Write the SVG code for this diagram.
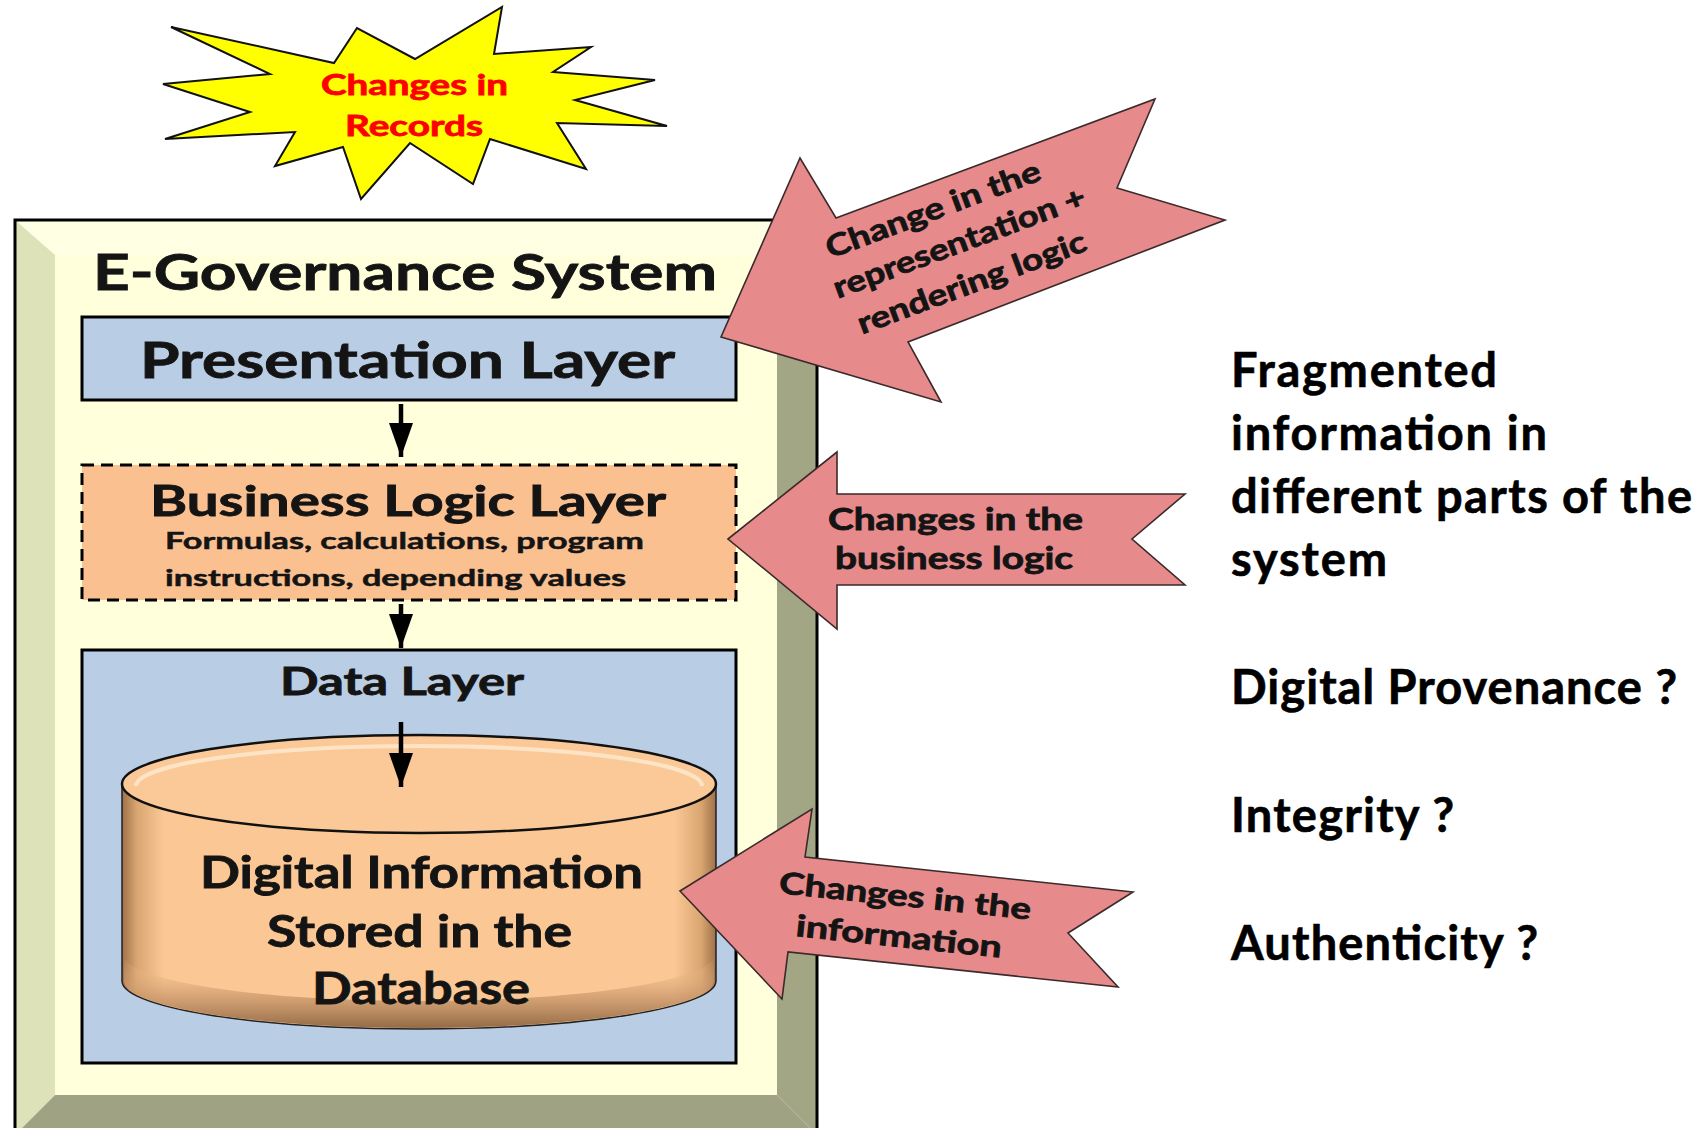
<svg xmlns="http://www.w3.org/2000/svg" width="1704" height="1128" viewBox="0 0 1704 1128">
  <style>
    .t { font-family: Lato, "Open Sans", "DejaVu Sans", sans-serif; font-weight: 700; fill: #141414; stroke: #141414; stroke-width: 0.8; }
    .red { fill: #FF0000; stroke: #FF0000; }
    .layer { stroke: #000; stroke-width: 3; }
    .blue { fill: #B9CDE5; }
    .pink { fill: #E78A8B; stroke: #3a2a2a; stroke-width: 1.6; stroke-linejoin: miter; }
    .conn { stroke: #000; stroke-width: 4.5; fill: none; }
    .q { font-family: Lato, "Open Sans", "DejaVu Sans", sans-serif; font-weight: 700; font-size: 47px; fill: #000; stroke: #000; stroke-width: 0.6; }
  </style>
  <defs>
    <marker id="head" viewBox="0 0 34 24" refX="34" refY="12" markerWidth="34" markerHeight="24" markerUnits="userSpaceOnUse" orient="auto">
      <path d="M0,0 L34,12 L0,24 Z" fill="#000"/>
    </marker>
    <linearGradient id="cylBody" x1="0" y1="0" x2="1" y2="0">
      <stop offset="0" stop-color="#9E7048"/>
      <stop offset="0.025" stop-color="#D9A672"/>
      <stop offset="0.07" stop-color="#FBC895"/>
      <stop offset="0.93" stop-color="#FBC895"/>
      <stop offset="0.975" stop-color="#D9A672"/>
      <stop offset="1" stop-color="#9E7048"/>
    </linearGradient>
    <linearGradient id="cylBottom" x1="0" y1="0" x2="0" y2="1">
      <stop offset="0" stop-color="#FBC895" stop-opacity="0"/>
      <stop offset="0.55" stop-color="#C9966A" stop-opacity="0.7"/>
      <stop offset="1" stop-color="#8E6642" stop-opacity="0.95"/>
    </linearGradient>
  </defs>

  <rect width="1704" height="1128" fill="#fff"/>

  <!-- bevelled frame of the system -->
  <g id="egov-frame">
    <rect x="55" y="255" width="722" height="840" fill="#FFFFDC"/>
    <polygon points="15,220 817,220 777,255 55,255" fill="#FFFFE4"/>
    <polygon points="15,220 55,255 55,1095 15,1135" fill="#DEE2B9"/>
    <polygon points="817,220 817,1135 777,1095 777,255" fill="#A3A685"/>
    <polygon points="15,1135 817,1135 777,1095 55,1095" fill="#9FA283"/>
    <path d="M15,1135 V220 H817 V1135" fill="none" stroke="#000" stroke-width="3"/>
    <text class="t" x="93" y="290" font-size="49" textLength="624" lengthAdjust="spacingAndGlyphs">E-Governance System</text>
  </g>

  <g id="presentation-layer">
    <rect class="layer blue" x="82" y="317" width="654" height="83"/>
    <text class="t" x="140" y="378" font-size="49" textLength="535" lengthAdjust="spacingAndGlyphs">Presentation Layer</text>
  </g>

  <g id="business-logic-layer">
    <rect class="layer" x="82" y="465" width="654" height="135" fill="#FAC090" stroke-dasharray="12 7"/>
    <text class="t" x="150" y="516" font-size="42" textLength="516" lengthAdjust="spacingAndGlyphs">Business Logic Layer</text>
    <text class="t" x="165" y="549" font-size="23" style="stroke-width:0.5" textLength="479" lengthAdjust="spacingAndGlyphs">Formulas,  calculations,  program</text>
    <text class="t" x="165" y="586" font-size="23" style="stroke-width:0.5" textLength="461" lengthAdjust="spacingAndGlyphs">instructions,  depending values</text>
  </g>

  <g id="data-layer">
    <rect class="layer blue" x="82" y="650" width="654" height="413"/>
    <text class="t" x="280" y="695" font-size="39" textLength="244" lengthAdjust="spacingAndGlyphs">Data Layer</text>
  </g>

  <g id="database">
    <path d="M122,784 V981 A297,48 0 0 0 716,981 V784 Z" fill="url(#cylBody)" stroke="#222" stroke-width="1.5"/>
    <path d="M124,955 A295,46 0 0 0 714,955 V981 A295,47 0 0 1 124,981 Z" fill="url(#cylBottom)"/>
    <ellipse cx="419" cy="784" rx="297" ry="49" fill="#FBC998" stroke="#111" stroke-width="2.5"/>
    <path d="M136,786 A283,40 0 0 1 702,786" fill="none" stroke="#FFEBD2" stroke-width="4" opacity="0.8"/>
    <text class="t" x="200" y="888" font-size="44" textLength="443" lengthAdjust="spacingAndGlyphs">Digital Information</text>
    <text class="t" x="267" y="947" font-size="44" textLength="305" lengthAdjust="spacingAndGlyphs">Stored in the</text>
    <text class="t" x="312" y="1004" font-size="44" textLength="218" lengthAdjust="spacingAndGlyphs">Database</text>
  </g>

  <!-- flow between the layers -->
  <g id="connectors">
    <line class="conn" x1="401" y1="404" x2="401" y2="457" marker-end="url(#head)"/>
    <line class="conn" x1="401" y1="604" x2="401" y2="648" marker-end="url(#head)"/>
    <line class="conn" x1="401" y1="722" x2="401" y2="787" marker-end="url(#head)"/>
  </g>

  <g id="star-records">
    <polygon points="171,27 334,63 357,28 415,59 502,7 494,54 591,47 553,72 655,80 575,100 667,126 557,123 586,169 490,139 473,184 410,143 361,199 343,147 275,166 295,132 165,139 250,112 163,84 270,74" fill="#FFFF00" stroke="#111" stroke-width="2" stroke-linejoin="miter"/>
    <text class="t red" x="321" y="95" font-size="28" textLength="187" lengthAdjust="spacingAndGlyphs">Changes in</text>
    <text class="t red" x="345" y="136" font-size="28" textLength="138" lengthAdjust="spacingAndGlyphs">Records</text>
  </g>

  <g id="arrow-representation">
    <polygon class="pink" points="721,337 800,158 836,218 1155,99 1117,188 1225,220 908,342 941,402"/>
    <g transform="translate(957,252) rotate(-20.5)">
      <text class="t" x="-121" y="-38" font-size="30" textLength="227" lengthAdjust="spacingAndGlyphs">Change in the</text>
      <text class="t" x="-128" y="2" font-size="30" textLength="267" lengthAdjust="spacingAndGlyphs">representation +</text>
      <text class="t" x="-118" y="44" font-size="30" textLength="242" lengthAdjust="spacingAndGlyphs">rendering logic</text>
    </g>
  </g>

  <g id="arrow-business">
    <polygon class="pink" points="728,539 837,452 837,494 1185,494 1132,539 1185,585 837,585 837,629"/>
    <text class="t" x="828" y="530" font-size="31" textLength="255" lengthAdjust="spacingAndGlyphs">Changes in the</text>
    <text class="t" x="835" y="569" font-size="31" textLength="238" lengthAdjust="spacingAndGlyphs">business logic</text>
  </g>

  <g id="arrow-information">
    <polygon class="pink" points="680,891 812,809 805,857 1133,892 1068,933 1118,987 788,952 782,999"/>
    <g transform="translate(900,926) rotate(6)">
      <text class="t" x="2" y="-20" font-size="30" text-anchor="middle" textLength="253" lengthAdjust="spacingAndGlyphs">Changes in the</text>
      <text class="t" x="0" y="21" font-size="30" text-anchor="middle" textLength="207" lengthAdjust="spacingAndGlyphs">information</text>
    </g>
  </g>

  <g id="questions">
    <text class="q" x="1231" y="387" textLength="266">Fragmented</text>
    <text class="q" x="1231" y="450" textLength="316">information in</text>
    <text class="q" x="1231" y="513" textLength="461">different parts of the</text>
    <text class="q" x="1231" y="576" textLength="156">system</text>
    <text class="q" x="1231" y="704" textLength="446">Digital Provenance ?</text>
    <text class="q" x="1231" y="832" textLength="223">Integrity ?</text>
    <text class="q" x="1231" y="960" textLength="307">Authenticity ?</text>
  </g>
</svg>
